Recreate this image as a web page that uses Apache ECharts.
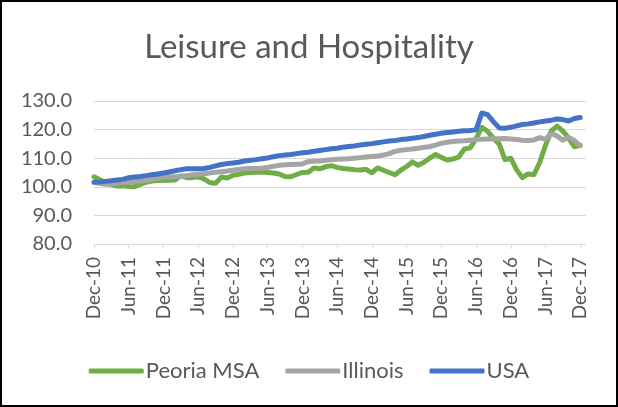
<!DOCTYPE html>
<html>
<head>
<meta charset="utf-8">
<script src="https://cdn.jsdelivr.net/npm/echarts@6/dist/echarts.min.js"></script>
<style>
  html, body { margin: 0; padding: 0; background: #fff; }
  #wrap { position: relative; width: 618px; height: 407px; }
  #chart { width: 618px; height: 407px; }
  #frame { position: absolute; left: 0; top: 0; width: 618px; height: 407px;
           box-sizing: border-box; border: 2px solid #000; pointer-events: none; }
</style>
</head>
<body>
<div id="wrap">
  <div id="chart"></div>
  <div id="frame"></div>
</div>
<script>
// monthly, Dec-10 .. Dec-17 (plus Jan-18 so the axis runs a bit past the last tick)
const months = ['Jan', 'Feb', 'Mar', 'Apr', 'May', 'Jun', 'Jul', 'Aug', 'Sep', 'Oct', 'Nov', 'Dec'];
const categories = ['Dec-10'];
for (let y = 11; y <= 18; y++) {
  for (let m = 0; m < 12; m++) {
    if (y === 18 && m > 0) break;
    categories.push(months[m] + '-' + y);
  }
}

const peoria = [
  103.5, 102.5, 101.5, 100.8, 100.2, 100.4, 100.1, 100.0, 100.8, 101.6,
  102.0, 102.2, 102.2, 102.3, 102.4, 103.9, 103.2, 103.2, 103.5, 102.8,
  101.5, 101.2, 103.4, 103.1, 104.0, 104.4, 104.8, 105.0, 105.1, 105.2,
  105.0, 104.8, 104.5, 103.6, 103.5, 104.3, 105.0, 105.1, 106.6, 106.3,
  107.0, 107.4, 106.8, 106.4, 106.2, 106.0, 105.9, 106.1, 104.9, 106.6,
  105.8, 105.0, 104.2, 105.8, 107.1, 108.7, 107.5, 108.6, 110.0, 111.3,
  110.3, 109.4, 109.7, 110.4, 113.2, 113.6, 116.8, 120.8, 119.4, 117.0,
  115.0, 109.5, 110.0, 106.0, 103.2, 104.5, 104.2, 108.5, 114.5, 119.5,
  121.2, 119.5, 117.0, 114.0, 114.5
];

const illinois = [
  101.6, 101.2, 100.9, 101.0, 101.3, 101.5, 101.6, 101.8, 102.0, 102.2,
  102.6, 103.0, 103.4, 103.4, 103.5, 103.6, 103.9, 104.2, 104.4, 104.6,
  104.8, 105.1, 105.3, 105.5, 105.8, 106.1, 106.3, 106.4, 106.4, 106.5,
  106.8, 107.2, 107.5, 107.7, 107.8, 107.9, 108.0, 108.8, 108.9, 109.0,
  109.3, 109.5, 109.6, 109.7, 109.8, 110.0, 110.2, 110.4, 110.6, 110.8,
  111.1, 111.6, 112.4, 112.8, 113.0, 113.2, 113.5, 113.8, 114.0, 114.6,
  115.2, 115.6, 115.8, 116.0, 116.1, 116.3, 116.5, 116.6, 116.7, 116.8,
  116.8, 116.9, 116.7, 116.5, 116.3, 116.2, 116.4, 117.2, 116.6, 118.6,
  117.8, 116.3, 117.3, 116.2, 114.3
];

const usa = [
  101.6, 101.7, 101.9, 102.1, 102.4, 102.6, 103.2, 103.4, 103.6, 103.9,
  104.2, 104.5, 104.8, 105.2, 105.6, 106.0, 106.3, 106.3, 106.3, 106.4,
  106.8, 107.3, 107.8, 108.1, 108.3, 108.6, 109.0, 109.3, 109.5, 109.8,
  110.1, 110.5, 110.9, 111.1, 111.3, 111.6, 111.9, 112.1, 112.4, 112.7,
  113.0, 113.3, 113.5, 113.8, 114.1, 114.3, 114.6, 114.9, 115.1, 115.4,
  115.7, 116.0, 116.2, 116.5, 116.7, 117.0, 117.2, 117.6, 118.0, 118.4,
  118.7, 119.0, 119.2, 119.4, 119.6, 119.7, 119.9, 125.8, 125.2, 122.8,
  120.6, 120.5, 120.8, 121.3, 121.8, 122.0, 122.3, 122.7, 123.0, 123.3,
  123.7, 123.5, 123.0, 123.9, 124.2
];

const yTicks = { min: 80, max: 130, interval: 10 };

const font = 'Lato, "Liberation Sans", sans-serif';
const textColor = '#595959';
const gridColor = '#d9d9d9';

const mkSeries = (name, data, color) => ({
  name: name,
  type: 'line',
  data: data,
  showSymbol: false,
  symbol: 'none',
  color: color,
  lineStyle: { width: 5, color: color, cap: 'round', join: 'round' },
  emphasis: { disabled: true },
  animation: false
});

const chart = echarts.init(document.getElementById('chart'), null, { renderer: 'canvas' });
chart.setOption({
  animation: false,
  backgroundColor: '#fff',
  title: {
    text: 'Leisure and Hospitality',
    left: 'center',
    top: 26,
    textStyle: { fontFamily: font, fontSize: 33, fontWeight: 'normal', color: textColor }
  },
  legend: {
    top: 355,
    left: 'center',
    itemGap: 26,
    itemWidth: 55,
    itemHeight: 5,
    icon: 'roundRect',
    textStyle: { fontFamily: font, fontSize: 22, color: textColor, padding: [0, 0, 0, -3] },
    data: ['Peoria MSA', 'Illinois', 'USA']
  },
  grid: { left: 94, right: 32, top: 101, bottom: 163, containLabel: false },
  xAxis: {
    type: 'category',
    data: categories,
    boundaryGap: false,
    axisLine: { lineStyle: { color: gridColor, width: 1 } },
    axisTick: { interval: 5, length: 5, lineStyle: { color: gridColor } },
    axisLabel: {
      interval: 5,
      rotate: 90,
      margin: 13,
      fontFamily: font,
      fontSize: 19,
      color: textColor
    },
    splitLine: { show: false }
  },
  yAxis: {
    type: 'value',
    min: yTicks.min,
    max: yTicks.max,
    interval: yTicks.interval,
    axisLine: { show: false },
    axisTick: { show: false },
    axisLabel: {
      margin: 22,
      fontFamily: font,
      fontSize: 20,
      color: textColor,
      formatter: (v) => v.toFixed(1)
    },
    splitLine: { lineStyle: { color: gridColor, width: 1 } }
  },
  series: [
    mkSeries('Peoria MSA', peoria, '#70ad47'),
    mkSeries('Illinois', illinois, '#a5a5a5'),
    mkSeries('USA', usa, '#4472c4')
  ]
});
</script>
</body>
</html>
